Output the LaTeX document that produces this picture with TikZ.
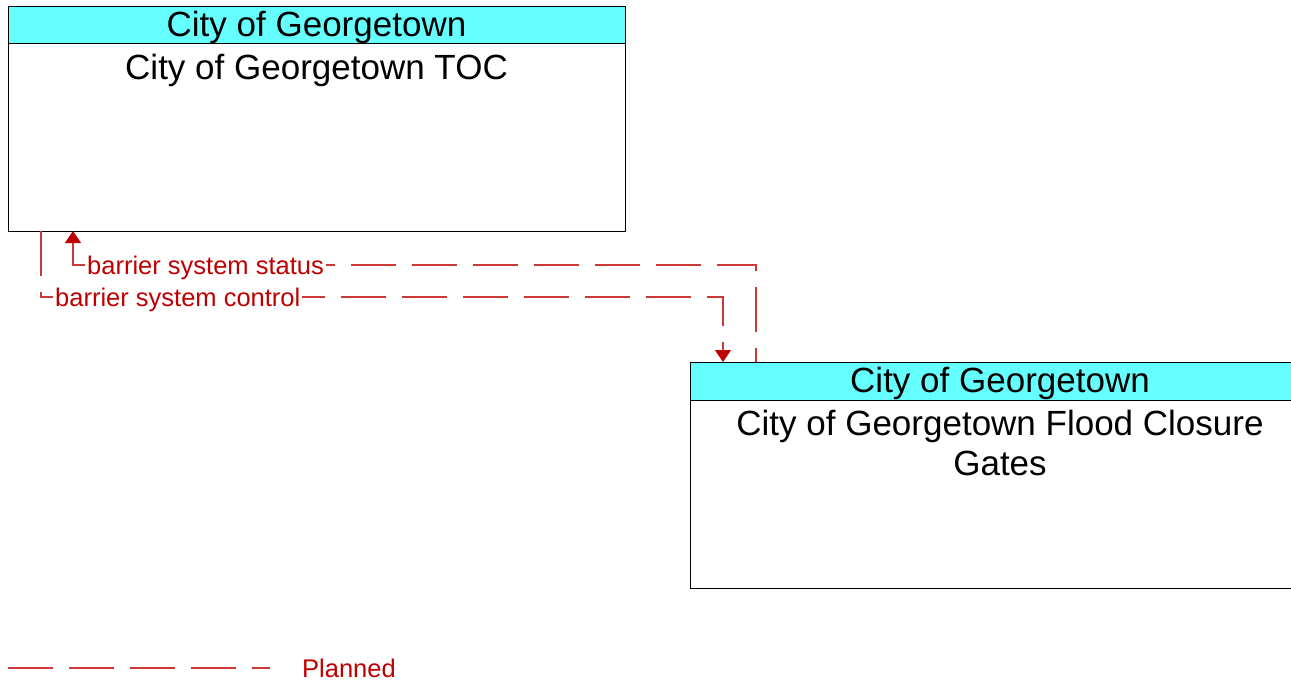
\documentclass[tikz,border=0pt]{standalone}
\usepackage{fontspec}
\setmainfont{Liberation Sans}
\usetikzlibrary{arrows.meta,calc,positioning}
\definecolor{hdrcyan}{RGB}{102,255,255}
\definecolor{flowred}{RGB}{192,0,0}
\definecolor{flowline}{RGB}{204,56,56}

\begin{document}
\begin{tikzpicture}[x=1pt,y=-1pt,
  hdr/.style={draw=black,fill=hdrcyan,line width=0.8pt,outer sep=0pt,inner sep=0pt,minimum height=37pt,text height=26pt,text depth=3pt,font=\fontsize{35}{40}\selectfont},
  body/.style={draw=black,fill=white,line width=0.8pt,outer sep=0pt,inner sep=0pt,minimum height=188pt},
  title/.style={align=center,inner sep=0pt,font=\fontsize{35}{40}\selectfont},
  flow/.style={draw=flowline,line width=1.3pt,dash pattern=on 45pt off 16pt},
  tip/.style={-{Triangle[width=16pt,length=12pt,color=flowred]}},
  flowlbl/.style={text=flowred,fill=white,inner xsep=2pt,inner ysep=1pt,font=\fontsize{25.5}{30}\selectfont}]
  \clip (0,0) rectangle (1291,683);
  % TOC
  \node[hdr,minimum width=617pt,anchor=north west] (tochdr) at (8,6) {City of Georgetown};
  \node[body,minimum width=617pt,anchor=north] (toc) at (tochdr.south) {};
  \node[title] (toctitle) at ($(tochdr.south)+(0,27)$) {City of Georgetown TOC};
  % flood gates
  \node[hdr,minimum width=620pt,minimum height=38pt,anchor=north west] (gatehdr) at (690,362) {City of Georgetown};
  \node[body,minimum width=620pt,anchor=north] (gates) at (gatehdr.south) {};
  \node[title] (gatetitle) at ($(gatehdr.south)+(0,43)$) {City of Georgetown Flood Closure\\Gates};
  % flows
  \coordinate (ctlA) at ($(toc.south west)+(33,0)$);
  \coordinate (ctlB) at ($(gatehdr.north west)+(33,0)$);
  \coordinate (stsA) at ($(gatehdr.north west)+(66,0)$);
  \coordinate (stsB) at ($(toc.south west)+(65,0)$);
  \draw[flow,tip] (ctlA) |- ($(ctlB)+(0,-65)$) -- (ctlB);
  \draw[flow,tip,dash phase=31pt] (stsA) |- ($(stsB)+(0,34)$) -- (stsB);
  \node[flowlbl,anchor=west] (ctllbl) at ($(ctlA)+(12,69)$) {barrier system control};
  \node[flowlbl,anchor=west] (stslbl) at ($(stsB)+(12,37)$) {barrier system status};
  % legend
  \coordinate (legA) at (8,668);
  \coordinate (legB) at (270,668);
  \draw[flow] (legA) -- (legB);
  \node[flowlbl,anchor=west] (leglbl) at ($(legB)+(30,0)$) {Planned};
\end{tikzpicture}
\end{document}
